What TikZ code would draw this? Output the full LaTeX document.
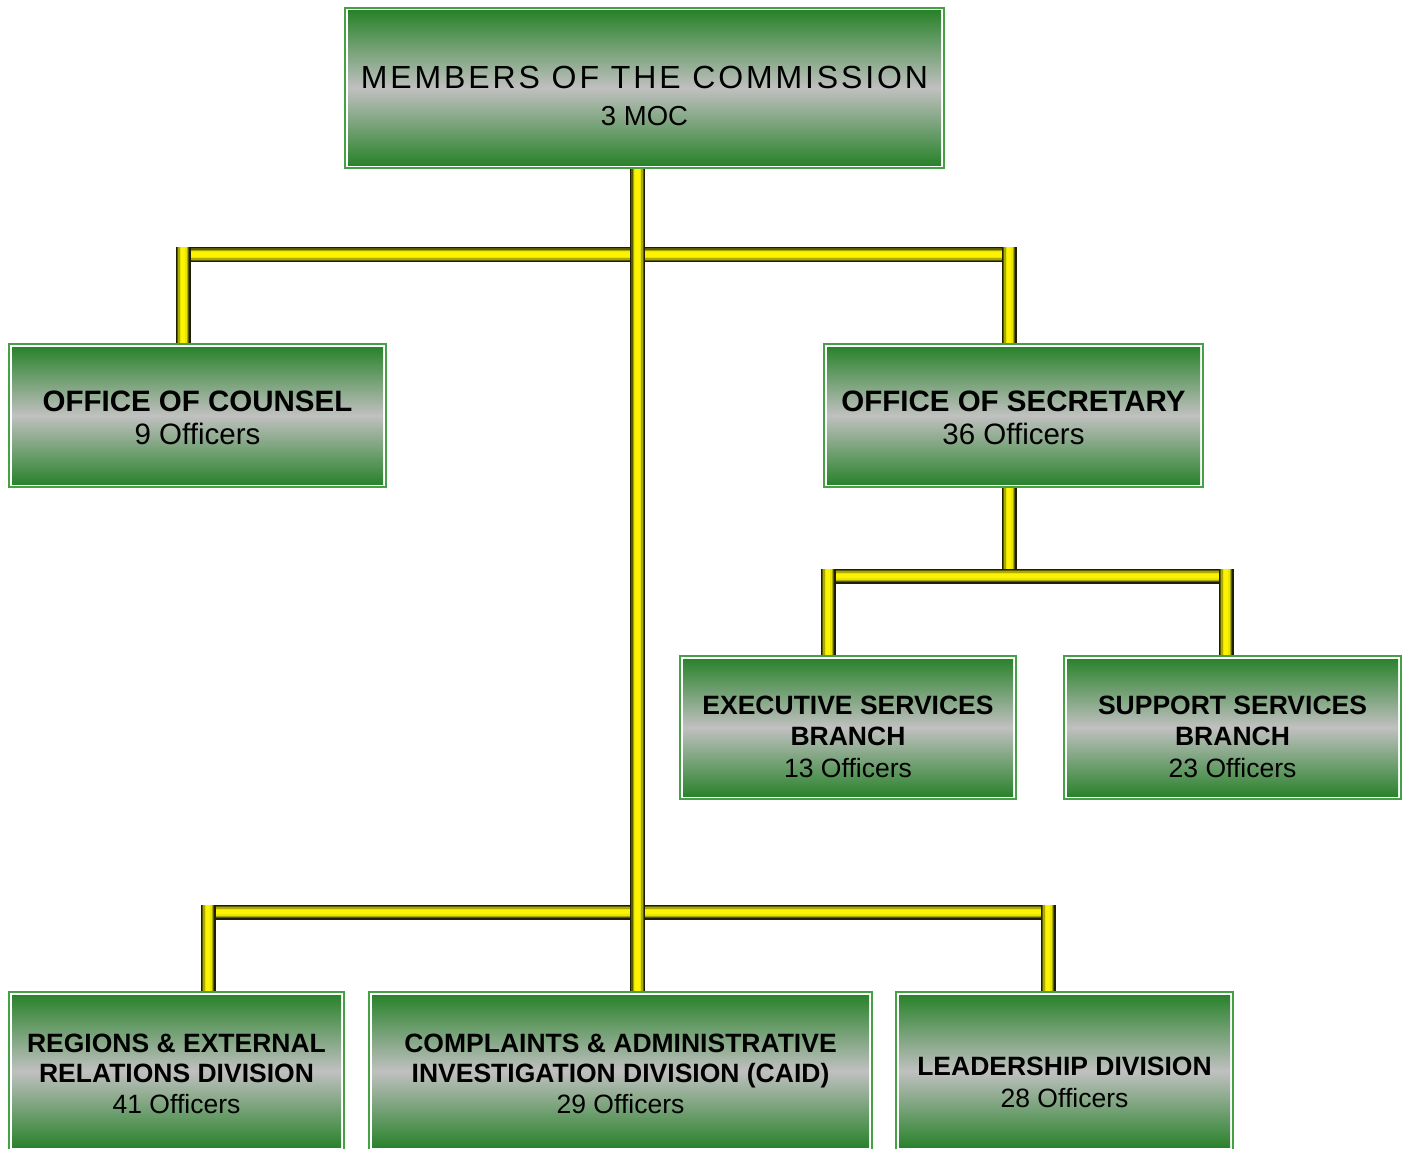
\documentclass[tikz,border=0pt]{standalone}
\usepackage{fontspec}
\setmainfont{Liberation Sans}
\usetikzlibrary{calc}
\definecolor{boxg}{RGB}{36,128,38}
\definecolor{boxgray}{RGB}{192,192,192}
\definecolor{boxline}{RGB}{70,160,70}
\definecolor{pd}{RGB}{30,30,0}
\definecolor{pm}{RGB}{90,90,0}
\definecolor{pl}{RGB}{170,170,0}
\definecolor{plb}{RGB}{230,230,0}
\begin{document}
\begin{tikzpicture}[x=1pt,y=-1pt,
  orgbox/.style={draw=boxline, line width=1.2pt, fill=white, inner sep=0pt,
    path picture={\shade[top color=boxg,bottom color=boxg,middle color=boxgray]
      ([shift={(3,3)}]path picture bounding box.north west) rectangle
      ([shift={(-3,-3)}]path picture bounding box.south east);}},
  boxtext/.style={align=center, inner sep=0pt, font=\fontsize{26.5}{31.5}\selectfont},
  bigtext/.style={align=center, inner sep=0pt, font=\fontsize{29.5}{33}\selectfont},
  pipe/.style={line width=15pt, draw=pd,
    postaction={draw=pm, line width=12.5pt},
    postaction={draw=pl, line width=10pt},
    postaction={draw=plb, line width=7pt},
    postaction={draw=yellow, line width=4.5pt}}]
\useasboundingbox (0,0) rectangle (1407,1148);

% boxes
\node[orgbox, minimum width=599pt, minimum height=160pt] (moc) at (644.5,88) {};
\node[orgbox, minimum width=377pt, minimum height=143pt] (counsel) at (197.5,415.5) {};
\node[orgbox, minimum width=379pt, minimum height=143pt] (sec) at (1013.5,415.5) {};
\node[orgbox, minimum width=336pt, minimum height=143pt] (exec) at (848,727.5) {};
\node[orgbox, minimum width=337pt, minimum height=143pt] (supp) at (1232.5,727.5) {};
\node[orgbox, minimum width=335pt, minimum height=158pt] (reg) at (176.5,1071) {};
\node[orgbox, minimum width=503pt, minimum height=158pt] (caid) at (620.5,1071) {};
\node[orgbox, minimum width=337pt, minimum height=158pt] (lead) at (1064.5,1071) {};

% texts
\node[align=center, inner sep=0pt, font=\fontsize{27.5}{37}\selectfont] (moct) at (644.5,96)
  {{\fontsize{32}{37}\selectfont\addfontfeature{LetterSpace=9}MEMBERS OF THE COMMISSION}\\3 MOC};
\node[bigtext] (counselt) at (197.5,417.5) {\textbf{OFFICE OF COUNSEL}\\9 Officers};
\node[bigtext] (sect) at (1013.5,417.5) {\textbf{OFFICE OF SECRETARY}\\36 Officers};
\node[boxtext] (exect) at (848,736.5) {\textbf{EXECUTIVE SERVICES}\\\textbf{BRANCH}\\13 Officers};
\node[boxtext] (suppt) at (1232.5,736.5) {\textbf{SUPPORT SERVICES}\\\textbf{BRANCH}\\23 Officers};
\node[boxtext, font=\fontsize{26.5}{30.5}\selectfont] (regt) at (176.5,1073.5) {\textbf{REGIONS \& EXTERNAL}\\\textbf{RELATIONS DIVISION}\\41 Officers};
\node[boxtext, font=\fontsize{26.5}{30.5}\selectfont] (caidt) at (620.5,1073.5) {\textbf{COMPLAINTS \& ADMINISTRATIVE}\\\textbf{INVESTIGATION DIVISION (CAID)}\\29 Officers};
\node[boxtext] (leadt) at (1064.5,1082.5) {\textbf{LEADERSHIP DIVISION}\\28 Officers};

% junction coordinates
\coordinate (mainx) at (637.5,0);
\coordinate (tbl) at (176,254.5);
\coordinate (tbr) at (1016,254.5);
\coordinate (cv) at (183,247);
\coordinate (sv) at (1009,247);
\coordinate (ss) at (1009,569);
\coordinate (sbl) at (821,576);
\coordinate (sbr) at (1233,576);
\coordinate (ev) at (828,569);
\coordinate (pv) at (1226,569);
\coordinate (bbl) at (201,912);
\coordinate (bbr) at (1055,912);
\coordinate (rv) at (208,905);
\coordinate (lv) at (1048,905);

% connectors
\draw[pipe] (tbl) -- (tbr);
\draw[pipe] (cv) -- (cv |- counsel.north);
\draw[pipe] (sv) -- (sv |- sec.north);
\draw[pipe] (ss |- sec.south) -- (ss);
\draw[pipe] (sbl) -- (sbr);
\draw[pipe] (ev) -- (ev |- exec.north);
\draw[pipe] (pv) -- (pv |- supp.north);
\draw[pipe] (bbl) -- (bbr);
\draw[pipe] (rv) -- (rv |- reg.north);
\draw[pipe] (lv) -- (lv |- lead.north);
\draw[pipe] (moc.south -| mainx) -- (caid.north -| mainx);
\end{tikzpicture}
\end{document}
